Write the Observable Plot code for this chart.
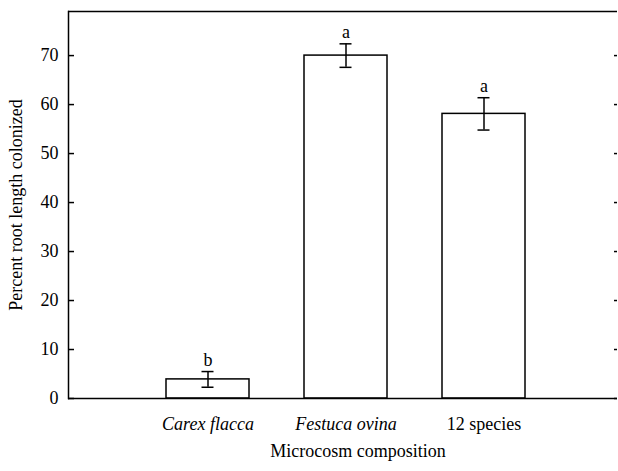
<!DOCTYPE html>
<html>
<head>
<meta charset="utf-8">
<script src="https://cdn.jsdelivr.net/npm/d3@7"></script>
<script src="https://cdn.jsdelivr.net/npm/@observablehq/plot@0.6"></script>
<style>
  html, body { margin: 0; padding: 0; background: #fff; }
  svg { display: block; }
  svg text { font-family: "Liberation Serif", serif !important; }
</style>
</head>
<body>
<div id="chart"></div>
<script>
const categories = ["Carex flacca", "Festuca ovina", "12 species"];
const italicCats = ["Carex flacca", "Festuca ovina"];
const uprightCats = ["12 species"];
const means = [3.9, 70.0, 58.1];
const errors = [1.6, 2.4, 3.3];
const letters = ["b", "a", "a"];
const yTicks = [0, 10, 20, 30, 40, 50, 60, 70];

const data = categories.map((c, i) => ({
  cat: c, mean: means[i], lo: means[i] - errors[i], hi: means[i] + errors[i], letter: letters[i]
}));

const W = 618, H = 471, ML = 68, MR = 1, MT = 11, MB = 73;
const frameW = W - ML - MR;
const font = "Liberation Serif";
const fs = 18;
const T = { fontSize: fs, fontFamily: font, fill: "#000" };

const chart = Plot.plot({
  width: W, height: H,
  marginLeft: ML, marginRight: MR, marginTop: MT, marginBottom: MB,
  style: { fontFamily: font, fontSize: fs + "px", color: "#000", background: "#fff" },
  x: { type: "band", domain: categories, range: [68, 622], paddingInner: 0.4, paddingOuter: 0.7, axis: null },
  y: { domain: [0, 79], axis: null },
  marks: [
    Plot.barY(data, { x: "cat", y: "mean", fill: "#fff", stroke: "#000", strokeWidth: 1.5 }),
    Plot.ruleX(data, { x: "cat", y1: "lo", y2: "hi", stroke: "#000", strokeWidth: 1.5 }),
    Plot.tickY(data, { x: "cat", y: "lo", stroke: "#000", strokeWidth: 1.5, insetLeft: 35.5, insetRight: 35.5 }),
    Plot.tickY(data, { x: "cat", y: "hi", stroke: "#000", strokeWidth: 1.5, insetLeft: 35.5, insetRight: 35.5 }),
    Plot.text(data, { x: "cat", y: "hi", text: "letter", lineAnchor: "bottom", dy: -6, ...T }),
    // frame lines
    Plot.ruleY([0], { stroke: "#000", strokeWidth: 1.5 }),
    Plot.ruleY([79], { stroke: "#000", strokeWidth: 1.5 }),
    Plot.frame({ anchor: "left", stroke: "#000", strokeWidth: 1.5 }),
    // inward ticks
    Plot.tickY(yTicks, { y: d => d, insetRight: frameW - 6, stroke: "#000", strokeWidth: 1.5 }),
    Plot.tickY(yTicks, { y: d => d, insetLeft: frameW - 3, stroke: "#000", strokeWidth: 1.5 }),
    // y tick labels
    Plot.text(yTicks, { y: d => d, text: d => String(d), frameAnchor: "left", textAnchor: "end", dx: -10, ...T }),
    // x tick labels
    Plot.text(italicCats, { x: d => d, text: d => d, frameAnchor: "bottom", lineAnchor: "bottom", dy: 31, fontStyle: "italic", ...T }),
    Plot.text(uprightCats, { x: d => d, text: d => d, frameAnchor: "bottom", lineAnchor: "bottom", dy: 31, ...T }),
    // axis titles
    Plot.text(["Microcosm composition"], { text: d => d, frameAnchor: "bottom", lineAnchor: "bottom", dy: 58, dx: 15, ...T }),
    Plot.text(["Percent root length colonized"], { text: d => d, frameAnchor: "left", textAnchor: "middle", rotate: -90, lineAnchor: "middle", dx: -52, ...T })
  ]
});
document.getElementById("chart").appendChild(chart);
</script>
</body>
</html>
